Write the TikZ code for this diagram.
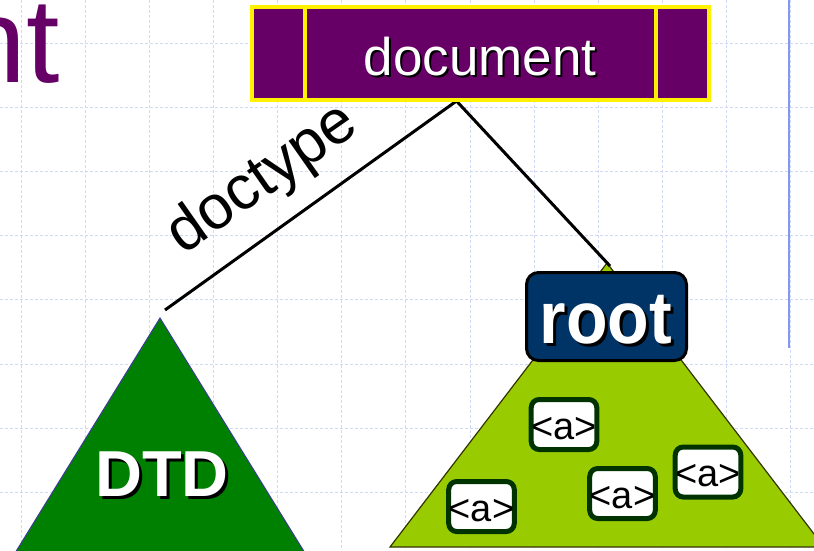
\documentclass[tikz,border=0pt]{standalone}
\usepackage{fontspec}
\setmainfont{Liberation Sans}
\newfontfamily\rootfont[FakeStretch=0.92]{Liberation Sans}

\definecolor{slidepurple}{HTML}{660066}
\definecolor{rootblue}{HTML}{003366}
\definecolor{dtdgreen}{HTML}{008000}
\definecolor{leafgreen}{HTML}{99CC00}
\definecolor{tagframe}{HTML}{003300}
\definecolor{gridblue}{HTML}{D0DAF6}
\definecolor{railblue}{HTML}{8398EE}
\definecolor{dtdrim}{HTML}{3D3D99}
\definecolor{leafrim}{HTML}{333300}

% white lettering with a black copy offset down and right
\newcommand{\dropshadow}[2]{\leavevmode\rlap{\kern#1\raisebox{-#1}{\color{black}#2}}#2}

\tikzset{
  gridline/.style={gridblue, line width=1pt, dash pattern=on 3pt off 2pt},
  rail/.style={railblue, line width=2pt},
  slidetitle/.style={inner sep=0pt, text=slidepurple, font=\fontsize{120}{120}\selectfont},
  docbox/.style={draw=yellow, line width=4pt, fill=slidepurple, minimum width=457pt, minimum height=93pt, inner sep=0pt},
  divider/.style={yellow, line width=4pt},
  doclabel/.style={inner sep=0pt, text=white, font=\fontsize{53}{53}\selectfont},
  edge/.style={black, line width=3pt},
  edgelabel/.style={inner sep=0pt, font=\fontsize{62}{62}\selectfont},
  dtdshape/.style={fill=dtdgreen, draw=dtdrim, line width=1pt},
  leafshape/.style={fill=leafgreen, draw=leafrim, line width=1.2pt},
  rootbox/.style={draw=black, line width=3pt, fill=rootblue, rounded corners=12pt, minimum width=160pt, minimum height=88pt, inner sep=0pt},
  rootlabel/.style={inner sep=0pt, text=white, font=\rootfont\bfseries\fontsize{74}{74}\selectfont},
  dtdlabel/.style={inner sep=0pt, text=white, font=\bfseries\fontsize{65}{65}\selectfont},
  tagbox/.style={draw=tagframe, line width=5pt, fill=white, rounded corners=8pt, minimum width=65pt, minimum height=50pt, inner sep=0pt, text height=29pt, text depth=0pt, font=\fontsize{38}{38}\selectfont},
}

\begin{document}
\begin{tikzpicture}[x=1pt, y=-1pt]
\useasboundingbox (0,0) rectangle (814,550);
\clip (0,0) rectangle (814,550);

% background grid
\foreach \k in {0,...,12}
  \draw[gridline] ({21.5+64.08*\k},0) -- ({21.5+64.08*\k},550);
\foreach \k in {0,...,7}
  \draw[gridline] (0,{43.5+64.1*\k}) -- (814,{43.5+64.1*\k});

% vertical rule on the right
\coordinate (railtop) at (789,0);
\coordinate (railfoot) at (789,348);
\draw[rail] (railtop) -- (railfoot);

% end of the slide title
\node[slidetitle, anchor=base east] (title) at (60,82) {nt};

% subtrees
\coordinate (dtdtop) at (160,318);
\coordinate (roottop) at (607,263);
\path[dtdshape] (dtdtop) -- (-14,600) -- (334,600) -- cycle;
\path[leafshape] (roottop) -- (390,547) -- (824,547) -- cycle;

% connectors from the document node
\coordinate (fork) at (456.5,101);
\coordinate (dtdend) at (165,310);
\coordinate (rootend) at (610,266);
\draw[edge] (fork) -- (dtdend);
\draw[edge] (fork) -- (rootend);
\node[edgelabel, rotate=35] (doctype) at (263,180) {doctype};

% root element
\node[rootbox] (root) at (606.5,316.5) {};
\node[rootlabel, anchor=base] (roottext) at (606,343) {\dropshadow{3pt}{root}};

% element nodes
\node[tagbox] (a1) at (564,424.5) {<a>};
\node[tagbox] (a2) at (481.5,506.5) {<a>};
\node[tagbox] (a3) at (622.5,493.5) {<a>};
\node[tagbox] (a4) at (708,472) {<a>};

\node[dtdlabel, anchor=base] (dtdtext) at (162,496) {\dropshadow{3pt}{DTD}};

% document node
\node[docbox] (doc) at (480.5,53.5) {};
\draw[divider] ([xshift=55pt]doc.north west) -- ([xshift=55pt]doc.south west);
\draw[divider] ([xshift=-55pt]doc.north east) -- ([xshift=-55pt]doc.south east);
\node[doclabel, anchor=base] (doctext) at (480,75) {\dropshadow{2pt}{document}};
\end{tikzpicture}
\end{document}
